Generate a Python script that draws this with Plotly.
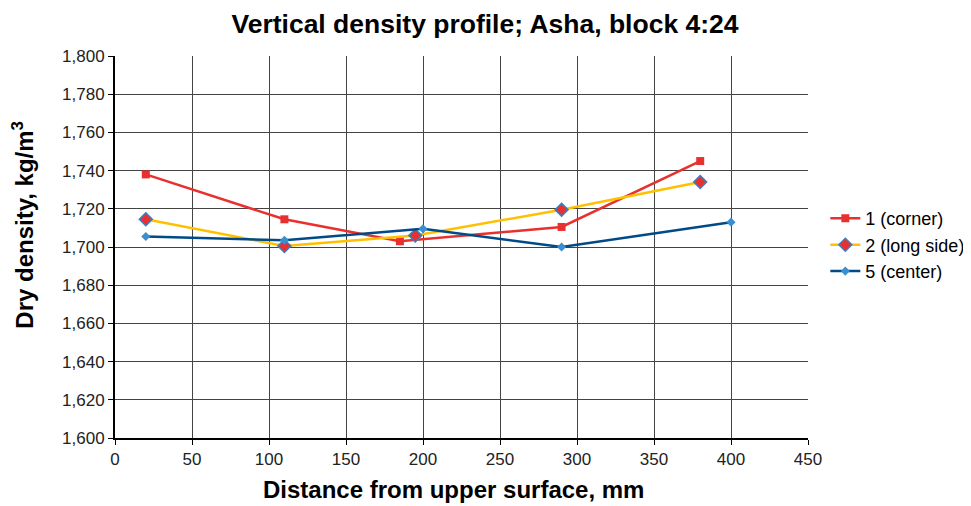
import plotly.graph_objects as go

corner_x = [20, 110, 185, 290, 380]
corner_y = [1738, 1714.5, 1703, 1710.5, 1745]
long_x = [20, 110, 195, 290, 380]
long_y = [1714.5, 1700.5, 1706, 1719.5, 1734]
center_x = [20, 110, 200, 290, 400]
center_y = [1705.5, 1703.5, 1709.5, 1700, 1713]

fig = go.Figure()
fig.add_trace(go.Scatter(
    x=corner_x, y=corner_y, name="1 (corner)", mode="lines+markers",
    line=dict(color="#E8312F", width=2.5),
    marker=dict(symbol="square", size=8, color="#E8312F")))
fig.add_trace(go.Scatter(
    x=long_x, y=long_y, name="2 (long side)", mode="lines+markers",
    line=dict(color="#FFC000", width=2.5),
    marker=dict(symbol="diamond", size=10, color="#E8312F",
                line=dict(color="#3A7FC0", width=1.5))))
fig.add_trace(go.Scatter(
    x=center_x, y=center_y, name="5 (center)", mode="lines+markers",
    line=dict(color="#004B87", width=2.5),
    marker=dict(symbol="diamond", size=7, color="#3A8FD0")))

axis_common = dict(
    showgrid=True, gridcolor="#444444", gridwidth=1,
    showline=True, linecolor="black", linewidth=2,
    ticks="outside", ticklen=5, tickcolor="black",
    tickfont=dict(family="Arial, Liberation Sans", size=17, color="#222"),
    zeroline=False, mirror=False, automargin=False,
)

# the page puts the figure 8px in from the top left corner;
# it is wider than the window so the legend is not clipped
fig.update_layout(
    width=1000, height=498,
    margin=dict(l=107, r=200, t=48, b=68),
    paper_bgcolor="white", plot_bgcolor="white",
    font=dict(family="Arial, Liberation Sans", color="black"),
    title=dict(text="<b>Vertical density profile; Asha, block 4:24</b>",
               x=0.477, xanchor="center", y=0.969,
               yanchor="middle", font=dict(size=26.5)),
    xaxis=dict(axis_common, range=[0, 450], dtick=50),
    yaxis=dict(axis_common, range=[1600, 1800], dtick=20, tickformat=",d"),
    legend=dict(x=1.025, y=0.505, xanchor="left", yanchor="middle",
                font=dict(size=18), bgcolor="rgba(0,0,0,0)",
                tracegroupgap=0, itemwidth=30),
    showlegend=True,
)

fig.add_annotation(text="<b>Distance from upper surface, mm</b>",
                   xref="paper", yref="paper", x=0.489, y=-0.136,
                   xanchor="center", yanchor="middle", showarrow=False,
                   font=dict(size=24))
fig.add_annotation(text="<b>Dry density, kg/m<sup>3</sup></b>",
                   xref="paper", yref="paper", x=-0.133, y=0.558,
                   xanchor="center", yanchor="middle", showarrow=False,
                   textangle=-90, font=dict(size=24))

fig.write_html("out.html")
